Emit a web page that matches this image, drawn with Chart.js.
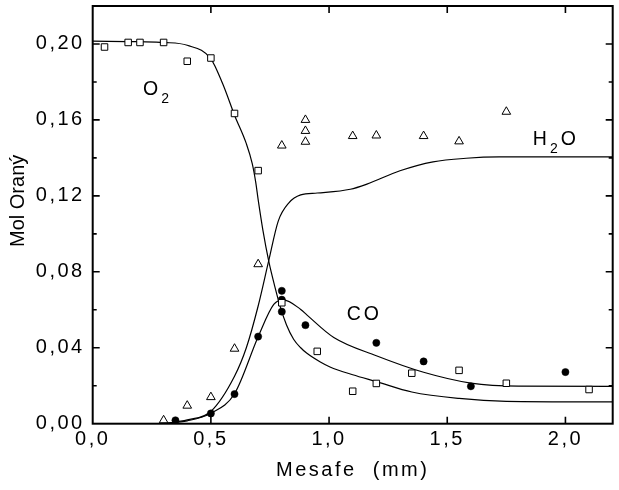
<!DOCTYPE html>
<html><head><meta charset="utf-8">
<script src="https://cdn.jsdelivr.net/npm/chart.js@4/dist/chart.umd.min.js"></script>
<style>html,body{margin:0;padding:0;background:#fff}#wrap{width:619px;height:490px}</style>
</head><body><div id="wrap"><canvas id="c" width="619" height="490"></canvas></div>
<script>
// ---- tick values ----
const xTickValues = [0, 0.5, 1.0, 1.5, 2.0];
const yTickValues = [0, 0.04, 0.08, 0.12, 0.16, 0.20];
const yMinorValues = [0.02, 0.06, 0.10, 0.14, 0.18];

// ---- measured points ----
const o2X = [0.05, 0.15, 0.20, 0.30, 0.40, 0.50, 0.60, 0.70, 0.80, 0.95, 1.10, 1.20, 1.35, 1.55, 1.75, 2.10];
const o2Y = [0.1984, 0.2008, 0.2008, 0.2008, 0.1909, 0.1926, 0.1634, 0.1333, 0.0637, 0.0381, 0.0171, 0.0212, 0.0266, 0.0281, 0.0213, 0.0180];

const coX = [0.35, 0.50, 0.60, 0.70, 0.80, 0.80, 0.80, 0.90, 1.20, 1.40, 1.60, 2.00];
const coY = [0.0018, 0.0054, 0.0156, 0.0459, 0.0700, 0.0653, 0.0590, 0.0519, 0.0426, 0.0328, 0.0197, 0.0272];

const h2oX = [0.30, 0.40, 0.50, 0.60, 0.70, 0.80, 0.90, 0.90, 0.90, 1.10, 1.20, 1.40, 1.55, 1.75];
const h2oY = [0.0018, 0.0095, 0.0140, 0.0395, 0.0840, 0.1465, 0.1600, 0.1542, 0.1485, 0.1515, 0.1518, 0.1515, 0.1487, 0.1643];

// ---- fitted curves ----
const o2CurveX = [0.00, 0.20, 0.30, 0.40, 0.50, 0.55, 0.60, 0.65, 0.675, 0.69, 0.70, 0.72, 0.745, 0.77, 0.795, 0.82, 0.85, 0.88, 0.905, 0.963, 1.004, 1.10, 1.20, 1.35, 1.55, 1.75, 2.20];
const o2CurveY = [0.2015, 0.2012, 0.2008, 0.1993, 0.1922, 0.1790, 0.1625, 0.1475, 0.1370, 0.1270, 0.1180, 0.1020, 0.0855, 0.0725, 0.0610, 0.0520, 0.0445, 0.0400, 0.0372, 0.0325, 0.0299, 0.0258, 0.0222, 0.0167, 0.0133, 0.0118, 0.0115];

const h2oCurveX = [0.30, 0.40, 0.50, 0.60, 0.65, 0.70, 0.745, 0.785, 0.83, 0.88, 0.95, 1.09, 1.16, 1.30, 1.44, 1.58, 1.72, 2.20];
const h2oCurveY = [0.0000, 0.0020, 0.0065, 0.0250, 0.0400, 0.0620, 0.0860, 0.1067, 0.1163, 0.1205, 0.1215, 0.1235, 0.1262, 0.1332, 0.1379, 0.1398, 0.1405, 0.1405];

const coCurveX = [0.30, 0.40, 0.50, 0.60, 0.70, 0.766, 0.806, 0.88, 0.907, 1.02, 1.20, 1.40, 1.60, 1.80, 2.20];
const coCurveY = [0.0000, 0.0015, 0.0055, 0.0158, 0.0458, 0.0628, 0.0652, 0.0602, 0.0572, 0.0454, 0.0358, 0.0271, 0.0214, 0.0198, 0.0197];

// ---- label texts ----
const labelO2 = [['O', 0], ['2', 1]];
const labelH2O = [['H', 0], ['2', 1], ['O', 0]];
const labelCO = [['CO', 0]];

const FAM = "'Liberation Sans', Arial, sans-serif";
const pts = (xs, ys) => xs.map((x, i) => ({x: x, y: ys[i]}));
const fmt = (v, d) => v.toFixed(d).replace('.', ',');

const annotations = [
  {parts: labelO2, x: 0.2128, y: 0.1731, gap: 3, ls: 0},
  {parts: labelH2O, x: 1.862, y: 0.1469, gap: 3, ls: 0},
  {parts: labelCO, x: 1.0746, y: 0.0547, gap: 0, ls: 3}
];

const framePlugin = {
  id: 'frame',
  beforeDraw(chart) { chart.ctx.letterSpacing = '2.5px'; },
  afterLayout(chart) {
    const ys = chart.scales.y;
    if (!ys._patched) {
      const orig = ys.drawTitle;
      ys.drawTitle = function () {
        const c = this.ctx; c.save(); c.letterSpacing = '0px'; c.translate(0, -14); orig.call(this); c.restore();
      };
      ys._patched = true;
    }
  },
  afterDatasetsDraw(chart) {
    const ctx = chart.ctx, {left, right, top, bottom} = chart.chartArea;
    const xs = chart.scales.x, ys = chart.scales.y;
    ctx.save();
    ctx.strokeStyle = '#000';
    ctx.lineWidth = 1.6;
    ctx.beginPath();
    xTickValues.forEach(v => {
      if (v <= xs.min || v >= xs.max) return;
      const p = xs.getPixelForValue(v);
      ctx.moveTo(p, bottom); ctx.lineTo(p, bottom - 7);
      ctx.moveTo(p, top); ctx.lineTo(p, top + 7);
    });
    yTickValues.forEach(v => {
      if (v <= ys.min || v >= ys.max) return;
      const p = ys.getPixelForValue(v);
      ctx.moveTo(left, p); ctx.lineTo(left + 7, p);
      ctx.moveTo(right, p); ctx.lineTo(right - 7, p);
    });
    yMinorValues.forEach(v => {
      const p = ys.getPixelForValue(v);
      ctx.moveTo(left, p); ctx.lineTo(left + 4, p);
      ctx.moveTo(right, p); ctx.lineTo(right - 4, p);
    });
    ctx.stroke();
    ctx.lineWidth = 2;
    ctx.strokeRect(left, top, right - left, bottom - top);
    // labels
    ctx.fillStyle = '#000';
    ctx.textBaseline = 'alphabetic';
    ctx.textAlign = 'left';
    annotations.forEach(a => {
      let px = xs.getPixelForValue(a.x);
      const py = ys.getPixelForValue(a.y);
      a.parts.forEach(([t, sub]) => {
        ctx.font = (sub ? 14 : 19.5) + 'px ' + FAM;
        ctx.letterSpacing = (sub ? 0 : a.ls) + 'px';
        ctx.fillText(t, px, py + (sub ? 8 : 0));
        px += ctx.measureText(t).width + a.gap;
      });
    });
    ctx.restore();
  }
};

new Chart(document.getElementById('c'), {
  type: 'scatter',
  data: {
    datasets: [
      {label: 'O2', data: pts(o2X, o2Y), pointStyle: 'rect', pointRadius: 4.6, borderColor: '#000', backgroundColor: '#fff', borderWidth: 1, showLine: false},
      {label: 'CO', data: pts(coX, coY), pointStyle: 'circle', pointRadius: 3.6, borderColor: '#000', backgroundColor: '#000', borderWidth: 0.5, showLine: false},
      {label: 'H2O', data: pts(h2oX, h2oY), pointStyle: 'triangle', pointRadius: 5, borderColor: '#000', backgroundColor: '#fff', borderWidth: 1, showLine: false},
      {label: 'O2 fit', data: pts(o2CurveX, o2CurveY), showLine: true, pointRadius: 0, borderColor: '#000', borderWidth: 1.2, cubicInterpolationMode: 'monotone', fill: false},
      {label: 'H2O fit', data: pts(h2oCurveX, h2oCurveY), showLine: true, pointRadius: 0, borderColor: '#000', borderWidth: 1.2, cubicInterpolationMode: 'monotone', fill: false},
      {label: 'CO fit', data: pts(coCurveX, coCurveY), showLine: true, pointRadius: 0, borderColor: '#000', borderWidth: 1.2, cubicInterpolationMode: 'monotone', fill: false}
    ]
  },
  options: {
    responsive: false,
    animation: false,
    events: [],
    layout: {padding: {left: 0, right: 6.3, top: 3.7, bottom: 0}},
    plugins: {legend: {display: false}, tooltip: {enabled: false}},
    scales: {
      x: {
        type: 'linear', position: 'bottom', min: 0, max: 2.2,
        grid: {display: false, drawTicks: false}, border: {display: false},
        afterBuildTicks: s => { s.ticks = xTickValues.map(v => ({value: v})); },
        afterFit: s => { s.height = 66.3; s.paddingLeft = 0; s.paddingRight = 0; },
        ticks: {color: '#000', padding: 3.3, font: {family: FAM, size: 20}, maxRotation: 0, callback: v => fmt(v, 1)},
        title: {display: true, text: 'Mesafe  (mm)', color: '#000', font: {family: FAM, size: 20}, padding: {top: 0, bottom: 7.5}}
      },
      y: {
        type: 'linear', position: 'left', min: 0, max: 0.22,
        grid: {display: false, drawTicks: false}, border: {display: false},
        afterBuildTicks: s => { s.ticks = yTickValues.map(v => ({value: v})); },
        afterFit: s => { s.width = 92.7; s.paddingTop = 0; s.paddingBottom = 0; },
        ticks: {color: '#000', padding: 8, font: {family: FAM, size: 20}, callback: v => fmt(v, 2)},
        title: {display: true, text: 'Mol Oraný', color: '#000', font: {family: FAM, size: 20}, padding: {top: 6.5, bottom: 0}}
      }
    }
  },
  plugins: [framePlugin]
});
</script>
</body></html>
